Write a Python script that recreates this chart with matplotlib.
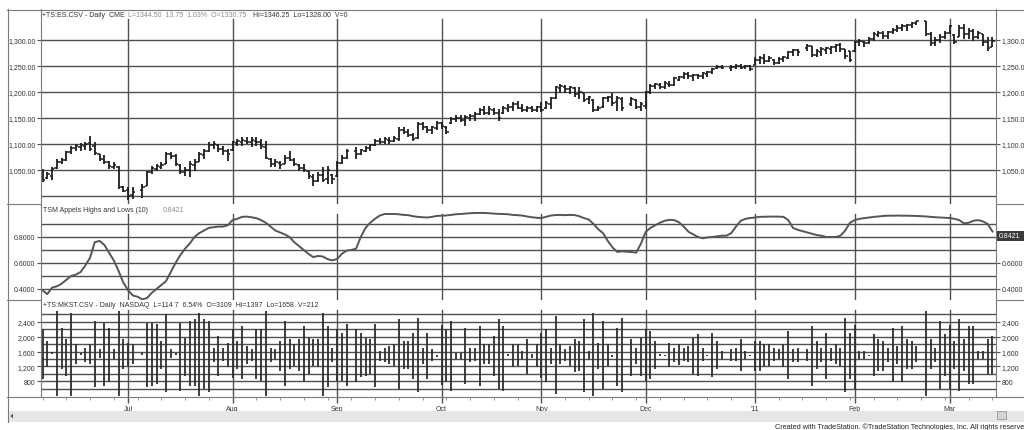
import numpy as np
import matplotlib
matplotlib.use("Agg")
import matplotlib.pyplot as plt
from matplotlib.patches import Rectangle, Polygon

nan = np.nan

# ----------------------------------------------------------------------
# Data (one slot per weekday, Jun 7 2010 .. Mar 14 2011)
# ----------------------------------------------------------------------
price_hi = [
    1052, 1046, 1055, 1071, 1074, 1087, 1097, 1100, 1102, 1103,
    1115, 1103, 1081, 1078, 1068, 1065, 1058, 1020, 1017, 1017,
    nan, 1023, 1049, 1058, 1062, 1065, 1084, 1084, 1081, 1062,
    1055, 1068, 1071, 1084, 1090, 1103, 1106, 1100, 1097, 1090,
    1106, 1110, 1113, 1113, 1113, 1113, 1110, 1106, 1074, 1071,
    1068, 1078, 1087, 1074, 1062, 1062, 1049, 1042, 1046, 1055,
    1058, 1042, 1068, 1078, 1090, nan, 1094, 1090, 1097, 1100,
    1110, 1112, 1113, 1113, 1116, 1132, 1132, 1129, 1122, 1142,
    1142, 1135, 1135, 1145, 1142, 1135, 1151, 1155, 1155, 1155,
    1158, 1161, 1170, 1173, 1173, 1170, 1167, 1173, 1177, 1180,
    1183, 1177, 1174, 1174, 1174, 1180, 1183, 1190, 1212, 1215,
    1213, 1212, 1209, 1209, 1199, 1193, 1186, 1174, 1190, 1193,
    1199, 1193, 1190, nan, 1190, 1186, 1180, 1202, 1215, 1218,
    1218, 1222, 1222, 1228, 1231, 1238, 1238, 1235, 1235, 1238,
    1241, 1247, 1251, 1251, nan, 1251, 1254, 1254, 1251, 1251,
    1267, 1270, 1273, 1270, 1263, 1267, 1270, 1279, 1283, 1283,
    nan, 1292, 1289, 1283, 1286, 1286, 1289, 1292, 1295, 1283,
    1279, 1299, 1302, 1299, 1305, 1315, 1318, 1318, 1318, 1324,
    1328, 1331, 1331, 1334, 1337, nan, 1337, 1315, 1305, 1311,
    1318, 1328, 1311, 1328, 1331, 1324, 1321, 1318, 1311, 1305,
    1305,
]
price_lo = [
    1026, 1033, 1030, 1052, 1062, 1068, 1081, 1087, 1087, 1088,
    1087, 1078, 1068, 1062, 1052, 1052, 1013, 1007, 992, 995,
    nan, 997, 1020, 1042, 1049, 1052, 1062, 1071, 1058, 1042,
    1039, 1036, 1049, 1065, 1071, 1084, 1090, 1084, 1078, 1068,
    1087, 1097, 1097, 1100, 1094, 1097, 1090, 1071, 1055, 1055,
    1052, 1062, 1068, 1058, 1049, 1046, 1033, 1020, 1026, 1026,
    1023, 1023, 1036, 1062, 1071, nan, 1071, 1078, 1084, 1087,
    1097, 1100, 1100, 1100, 1103, 1106, 1119, 1113, 1106, 1110,
    1126, 1122, 1119, 1126, 1129, 1119, 1138, 1142, 1142, 1135,
    1145, 1145, 1155, 1155, 1155, 1155, 1145, 1158, 1161, 1164,
    1167, 1161, 1161, 1161, 1161, 1161, 1167, 1167, 1187, 1199,
    1199, 1196, 1190, 1187, 1180, 1177, 1161, 1164, 1170, 1180,
    1174, 1164, 1164, nan, 1174, 1167, 1164, 1167, 1196, 1206,
    1206, 1206, 1209, 1212, 1222, 1225, 1225, 1222, 1225, 1225,
    1228, 1235, 1244, 1244, nan, 1241, 1244, 1244, 1244, 1241,
    1251, 1254, 1254, 1257, 1251, 1254, 1257, 1263, 1270, 1270,
    nan, 1279, 1267, 1267, 1270, 1273, 1273, 1276, 1276, 1263,
    1257, 1276, 1289, 1286, 1292, 1299, 1305, 1302, 1302, 1312,
    1315, 1318, 1318, 1324, 1328, nan, 1308, 1289, 1289, 1295,
    1302, 1312, 1292, 1305, 1302, 1302, 1299, 1302, 1289, 1279,
    1286,
]
price_open = [
    1048, 1035, 1038, 1054, 1066, 1070, 1084, 1092, 1094, 1096,
    1102, 1096, 1080, 1072, 1066, 1056, 1056, 1018, 1012, 1002,
    nan, 1012, 1020, 1046, 1052, 1056, 1062, 1080, 1076, 1060,
    1046, 1050, 1060, 1066, 1078, 1086, 1098, 1098, 1090, 1086,
    1088, 1102, 1104, 1106, 1104, 1106, 1104, 1094, 1072, 1062,
    1064, 1062, 1074, 1070, 1060, 1054, 1048, 1036, 1028, 1040,
    1032, 1040, 1038, 1064, 1074, nan, 1086, 1080, 1086, 1092,
    1098, 1106, 1104, 1108, 1106, 1110, 1126, 1124, 1118, 1112,
    1138, 1132, 1126, 1130, 1140, 1132, 1140, 1148, 1150, 1146,
    1150, 1154, 1158, 1166, 1160, 1166, 1160, 1160, 1168, 1172,
    1176, 1170, 1166, 1170, 1166, 1172, 1170, 1176, 1188, 1208,
    1210, 1206, 1208, 1196, 1198, 1186, 1184, 1166, 1172, 1188,
    1190, 1180, 1186, nan, 1176, 1184, 1172, 1174, 1200, 1212,
    1214, 1210, 1216, 1214, 1224, 1228, 1234, 1230, 1232, 1230,
    1234, 1238, 1246, 1248, nan, 1246, 1248, 1250, 1248, 1250,
    1252, 1262, 1266, 1260, 1262, 1256, 1264, 1266, 1276, 1280,
    nan, 1284, 1288, 1272, 1276, 1280, 1282, 1286, 1290, 1282,
    1278, 1278, 1296, 1296, 1294, 1302, 1310, 1314, 1308, 1316,
    1320, 1324, 1326, 1328, 1332, nan, 1336, 1312, 1294, 1300,
    1306, 1314, 1310, 1306, 1324, 1312, 1318, 1306, 1312, 1296,
    1286,
]
price_close = [
    1030, 1042, 1052, 1066, 1070, 1085, 1092, 1096, 1098, 1100,
    1090, 1082, 1072, 1066, 1058, 1060, 1018, 1010, 1000, 1008,
    nan, 1018, 1046, 1054, 1058, 1060, 1080, 1076, 1062, 1046,
    1050, 1062, 1066, 1080, 1086, 1098, 1100, 1090, 1086, 1080,
    1104, 1106, 1108, 1104, 1108, 1104, 1096, 1074, 1062, 1066,
    1060, 1074, 1070, 1062, 1054, 1050, 1038, 1028, 1040, 1030,
    1050, 1032, 1064, 1074, 1086, nan, 1080, 1088, 1092, 1098,
    1106, 1104, 1110, 1106, 1112, 1126, 1124, 1118, 1110, 1138,
    1132, 1126, 1132, 1140, 1134, 1124, 1148, 1150, 1146, 1152,
    1154, 1158, 1166, 1160, 1168, 1160, 1150, 1170, 1172, 1176,
    1170, 1166, 1170, 1166, 1172, 1166, 1178, 1188, 1210, 1212,
    1206, 1210, 1196, 1200, 1184, 1190, 1166, 1170, 1188, 1190,
    1178, 1188, 1170, nan, 1186, 1172, 1176, 1200, 1212, 1216,
    1210, 1218, 1214, 1226, 1228, 1234, 1230, 1232, 1230, 1236,
    1238, 1244, 1248, 1246, nan, 1248, 1250, 1246, 1250, 1244,
    1262, 1266, 1260, 1266, 1256, 1264, 1268, 1276, 1280, 1276,
    nan, 1288, 1272, 1278, 1282, 1284, 1286, 1290, 1282, 1270,
    1262, 1296, 1298, 1294, 1302, 1312, 1314, 1308, 1316, 1320,
    1324, 1326, 1328, 1332, 1336, nan, 1312, 1294, 1300, 1306,
    1314, 1326, 1296, 1324, 1312, 1318, 1306, 1314, 1296, 1284,
    1298,
]

# TSM Appels Highs and Lows (10)
appel = [
    0.39, 0.36, 0.41, 0.42, 0.44, 0.47, 0.50, 0.51, 0.53, 0.58,
    0.64, 0.76, 0.77, 0.74, 0.68, 0.62, 0.54, 0.45, 0.39, 0.35,
    0.34, 0.32, 0.33, 0.37, 0.40, 0.43, 0.46, 0.53, 0.60, 0.66,
    0.71, 0.75, 0.80, 0.83, 0.85, 0.87, 0.875, 0.88, 0.88, 0.89,
    0.93, 0.94, 0.955, 0.957, 0.952, 0.945, 0.93, 0.91, 0.88, 0.85,
    0.835, 0.82, 0.80, 0.76, 0.73, 0.70, 0.67, 0.645, 0.654, 0.65,
    0.63, 0.62, 0.63, 0.67, 0.695, 0.70, 0.71, 0.80, 0.87, 0.91,
    0.94, 0.965, 0.977, 0.977, 0.977, 0.975, 0.97, 0.968, 0.96, 0.955,
    0.952, 0.95, 0.955, 0.962, 0.964, 0.966, 0.97, 0.975, 0.977, 0.98,
    0.983, 0.985, 0.985, 0.985, 0.983, 0.98, 0.978, 0.977, 0.975, 0.97,
    0.968, 0.965, 0.958, 0.952, 0.948, 0.946, 0.955, 0.965, 0.969, 0.97,
    0.968, 0.97, 0.969, 0.96, 0.945, 0.935, 0.90, 0.86, 0.83, 0.77,
    0.72, 0.685, 0.69, 0.687, 0.684, 0.68, 0.75, 0.84, 0.87, 0.89,
    0.91, 0.925, 0.932, 0.93, 0.913, 0.88, 0.84, 0.82, 0.80, 0.79,
    0.797, 0.80, 0.805, 0.81, 0.81, 0.83, 0.88, 0.925, 0.94, 0.946,
    0.95, 0.955, 0.956, 0.957, 0.957, 0.957, 0.955, 0.93, 0.87, 0.855,
    0.845, 0.835, 0.825, 0.815, 0.81, 0.80, 0.80, 0.80, 0.81, 0.85,
    0.91, 0.93, 0.94, 0.945, 0.95, 0.955, 0.958, 0.962, 0.964, 0.964,
    0.965, 0.964, 0.964, 0.963, 0.962, 0.96, 0.958, 0.955, 0.952, 0.95,
    0.948, 0.946, 0.94, 0.93, 0.905, 0.91, 0.925, 0.93, 0.92, 0.90,
    0.8421,
]

# +TS:MKST.CSV bars (high / low)
mkst_hi = [
    2212, 1883, 1580, 2683, 2239, 1928, 2639, 1795, 1560, 1706,
    1795, 2417, 1661, 2372, 2239, 1661, 2683, 1928, 1839, 1795,
    nan, 1560, 2372, 2372, 2328, 1883, 2595, 1661, 1560, 2372,
    1972, 2417, 2461, 2639, 2461, 2417, 1706, 2017, 1706, 1839,
    2200, 1883, 2283, 1750, 1661, 2195, 2195, 2683, 1706, 1661,
    1883, 2417, 1928, 1795, 1928, 2283, 1972, 1928, 1928, 2639,
    2283, 1706, 2200, 2106, 2328, nan, 2195, 2106, 1972, 1928,
    2328, 1617, 1706, 1750, 1795, 2461, 1883, 1883, 2106, 2506,
    1706, 2106, 1661, 1510, 2300, 2195, 2417, 1572, 1572, 2239,
    1706, 1706, 2283, 1795, 1795, 2017, 2461, 2283, 1530, 1795,
    1795, 1617, 1928, 1528, 1795, 2100, 2195, 1706, 2550, 1795,
    1661, 1750, 1928, 1883, 2461, 1617, 2639, 1839, 2417, 1795,
    1510, 2239, 2506, nan, 1928, 1706, 1972, 2200, 2150, 1883,
    1530, 1510, 1839, 1706, 1800, 1706, 1750, 1972, 2061, 1706,
    1510, 2106, 1883, 1617, nan, 1661, 1706, 1928, 1617, 1510,
    1883, 1883, 1795, 1795, 1706, 1661, 1795, 2150, 1661, 1706,
    nan, 1661, 2283, 1883, 1706, 2106, 1706, 1795, 1706, 2506,
    2106, 2300, 1617, 1617, 1510, 2061, 1928, 1883, 1706, 2239,
    1750, 2283, 1928, 1883, 1750, nan, 2683, 1928, 1706, 2417,
    2061, 2300, 1883, 2461, 1928, 2283, 2283, 1617, 1617, 1928,
    2017,
]
mkst_lo = [
    861, 1172, 1540, 417, 1128, 950, 417, 1261, 1500, 1306,
    1261, 639, 1439, 665, 772, 1394, 417, 1128, 1217, 1261,
    nan, 1500, 639, 683, 728, 1128, 506, 1439, 1500, 550,
    950, 683, 683, 417, 595, 506, 1306, 950, 1350, 1172,
    900, 1128, 861, 1261, 1350, 861, 817, 417, 1306, 1394,
    1083, 683, 1128, 1217, 1083, 772, 994, 1217, 1172, 417,
    639, 1306, 800, 800, 683, nan, 772, 906, 950, 994,
    639, 1350, 1306, 1261, 1217, 594, 1128, 1128, 861, 506,
    1261, 861, 1350, 1460, 700, 772, 550, 1394, 1394, 728,
    1306, 1350, 683, 1261, 1261, 950, 594, 550, 1480, 1172,
    1217, 1394, 994, 1439, 1172, 900, 772, 1261, 461, 1261,
    1350, 1217, 1039, 1083, 506, 1394, 417, 1128, 594, 1217,
    1460, 683, 506, nan, 950, 1261, 950, 800, 861, 1128,
    1480, 1470, 1172, 1306, 1250, 1350, 1306, 994, 950, 1350,
    1470, 906, 1128, 1394, nan, 1350, 1350, 1083, 1394, 1470,
    1083, 1083, 1217, 1217, 1350, 1394, 1172, 861, 1306, 1306,
    nan, 1350, 683, 1128, 1306, 861, 1350, 1261, 1217, 506,
    861, 600, 1394, 1394, 1470, 950, 1083, 1083, 1306, 772,
    1261, 772, 1128, 1128, 1306, nan, 417, 1128, 1306, 594,
    950, 600, 1128, 550, 1083, 728, 728, 1394, 1394, 994,
    994,
]

month_idx = [18, 40, 62, 84, 105, 127, 150, 171, 191]
month_labels = ["Jul", "Aug", "Sep", "Oct", "Nov", "Dec", "'11", "Feb", "Mar"]

price_ticks = [1050, 1100, 1150, 1200, 1250, 1300]
price_grid = [1000, 1050, 1100, 1150, 1200, 1250, 1300]
appel_ticks = [0.4, 0.6, 0.8]
appel_grid = [0.4, 0.5, 0.6, 0.7, 0.8, 0.9]
mkst_ticks = [800, 1200, 1600, 2000, 2400]
mkst_grid = [600, 800, 1000, 1200, 1400, 1600, 1800, 2000, 2200, 2400, 2600]

# ----------------------------------------------------------------------
# Layout
# ----------------------------------------------------------------------
W, H = 1024, 431
GRID = "#505050"
TXT = "#333333"
FS = 5.0
plt.rcParams["font.family"] = ["Liberation Sans", "DejaVu Sans"]

fig = plt.figure(figsize=(W / 100, H / 100), dpi=100)
fig.patch.set_facecolor("white")


def px_axes(x0, y0, x1, y1):
    return fig.add_axes([x0 / W, 1 - y1 / H, (x1 - x0) / W, (y1 - y0) / H])


idx = np.arange(len(price_hi))
XLIM = (-0.32, 200.74)


def setup(ax, ylim, ticks, labels, grid, top_gap):
    ax.set_xlim(*XLIM)
    ax.set_ylim(*ylim)
    ax.patch.set_alpha(0)
    for s in ax.spines.values():
        s.set_visible(False)
    ax.set_xticks([])
    ax.set_yticks(ticks, labels)
    ax.tick_params(axis="y", left=True, right=True, labelleft=True,
                   labelright=True, length=3, width=0.8, color=GRID,
                   labelsize=FS, pad=1, labelcolor=TXT)
    for g in grid:
        ax.axhline(g, color=GRID, lw=1.0, zorder=1)
    for m in month_idx:
        ax.axvline(m, ymin=0, ymax=top_gap, color=GRID, lw=1.0, zorder=1)


# panel 1: price bars
ax1 = px_axes(41, 10, 996, 205)
setup(ax1, (984.6, 1359.6), price_ticks, [f"{v:,.2f}" for v in price_ticks],
      price_grid, 0.95)
hi = np.array(price_hi)
ok = ~np.isnan(hi)
ax1.vlines(idx[ok], np.array(price_lo)[ok], hi[ok], color="#1e1e1e", lw=1.3, zorder=3)
ax1.hlines(np.array(price_open)[ok], idx[ok] - 0.5, idx[ok], color="#1e1e1e", lw=1.1, zorder=3)
ax1.hlines(np.array(price_close)[ok], idx[ok], idx[ok] + 0.5, color="#1e1e1e", lw=1.1, zorder=3)

# panel 2: Appel highs and lows line
ax2 = px_axes(41, 205, 996, 301)
setup(ax2, (0.315, 1.054), appel_ticks, [f"{v:.4f}" for v in appel_ticks],
      appel_grid, 0.9)
ax2.plot(idx, appel, color="#555555", lw=1.4, zorder=3)
# the right-hand 0.8000 label sits under the last-value box
ax2.yaxis.get_major_ticks()[2].label2.set_visible(False)

# panel 3: MKST bars
ax3 = px_axes(41, 301, 996, 398)
setup(ax3, (381, 2980), mkst_ticks, [f"{v:,}" for v in mkst_ticks],
      mkst_grid, 0.9)
mh = np.array(mkst_hi)
ok3 = ~np.isnan(mh)
ax3.vlines(idx[ok3], np.array(mkst_lo)[ok3], mh[ok3], color="#2e2e2e", lw=1.3, zorder=3)
ax3.set_xticks(month_idx, month_labels)
ax3.set_xticks(np.arange(0, len(idx), 5), minor=True)
ax3.tick_params(axis="x", which="major", length=4, width=1.0, color=GRID,
                labelsize=FS, pad=2, labelcolor=TXT)
ax3.tick_params(axis="x", which="minor", length=2, width=0.6, color="#888888")

# ----------------------------------------------------------------------
# Frame, titles, status strip (pixel overlay)
# ----------------------------------------------------------------------
ov = fig.add_axes([0, 0, 1, 1])
ov.set_xlim(0, W)
ov.set_ylim(H, 0)
ov.axis("off")
ov.patch.set_alpha(0)

frame = "#7a7a7a"
for (x0, y0, x1, y1) in [(7, 10.5, 1024, 10.5), (7.5, 10, 7.5, 423),
                         (41, 10, 41, 398), (996, 10, 996, 398),
                         (7, 398, 1024, 398),
                         (7, 205, 41, 205), (996, 205, 1024, 205),
                         (7, 301, 41, 301), (996, 301, 1024, 301)]:
    ov.plot([x0, x1], [y0, y1], color=frame, lw=0.8)

ov.add_patch(Rectangle((8, 412), 1016, 11, fc="#e6e6e6", ec="none"))
ov.add_patch(Polygon([(13, 414.5), (13, 419.5), (10.5, 417)], closed=True, fc="#555555"))
ov.add_patch(Rectangle((997, 412.5), 9, 7.5, fc="#d4d4d4", ec="#9a9a9a", lw=0.6))

# panel titles
ov.text(42, 15.5, "+TS:ES.CSV - Daily  CME", fontsize=FS, color=TXT, va="center")
ov.text(128, 15.5, "L=1344.50  13.75  1.03%  O=1330.75", fontsize=FS, color="#8a8a8a", va="center")
ov.text(253, 15.5, "Hi=1346.25  Lo=1328.00  V=0", fontsize=FS, color=TXT, va="center")
ov.text(43, 210.5, "TSM Appels Highs and Lows (10)", fontsize=FS, color=TXT, va="center")
ov.text(163, 210.5, "0.8421", fontsize=FS, color="#8a8a8a", va="center")
ov.text(43, 306, "+TS:MKST.CSV - Daily  NASDAQ  L=114 7  6.54%  O=3109  Hi=1397  Lo=1658  V=212",
        fontsize=FS, color=TXT, va="center")

# last value marker for the indicator
ov.add_patch(Rectangle((997, 232), 28, 10, fc="#3a3a3a", ec="none", zorder=5))
ov.text(999, 237, "0.8421", fontsize=FS, color="white", va="center", zorder=6)

ov.text(775, 427.5, "Created with TradeStation. \u00a9TradeStation Technologies, Inc. All rights reserved.",
        fontsize=5.2, color="#222222", va="center")

fig.savefig("out.png", dpi=100)
